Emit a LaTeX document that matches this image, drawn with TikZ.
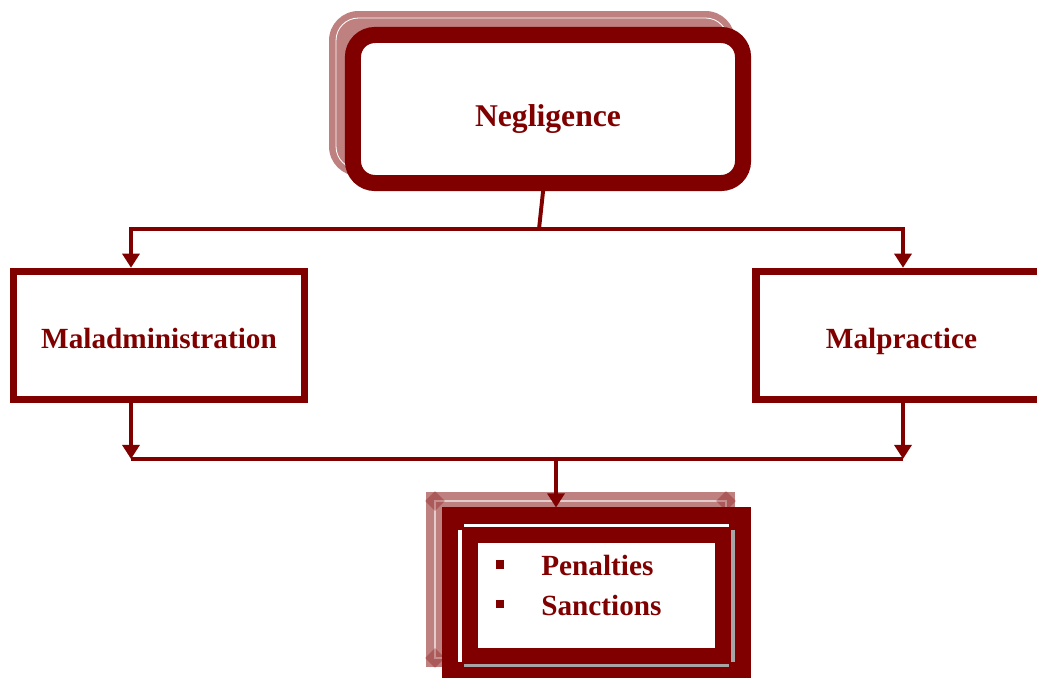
\documentclass[tikz,border=0pt]{standalone}
\definecolor{maroonred}{rgb}{0.50,0.00,0.00}
\definecolor{shadered}{rgb}{0.75,0.50,0.50}
\definecolor{bevelgray}{gray}{0.65}
\usepackage{fontspec}
\setmainfont{Liberation Serif}
\usepackage{tikz}
\usetikzlibrary{arrows.meta,positioning,calc}
\tikzset{
  conn/.style={maroonred,line width=2.8pt},
  arr/.style={conn,-{Triangle[length=10pt,width=12pt]}},
  sidebox/.style={draw=maroonred,line width=5.3pt,fill=white,minimum width=7.275cm,minimum height=3.2cm,inner sep=0pt,text height=17.8pt,text depth=0pt},
  topbox/.style={draw=maroonred,line width=11.4pt,fill=white,rounded corners=15.6pt,minimum width=9.75cm,minimum height=3.7cm,inner sep=0pt,text height=25.2pt,text depth=0pt},
  penbox/.style={draw=maroonred,line width=25.6pt,fill=white,minimum width=6.825cm,minimum height=3.5cm},
  lab/.style={text=maroonred,font=\bfseries\fontsize{20.8}{25}\selectfont},
  biglab/.style={text=maroonred,font=\bfseries\fontsize{22.5}{27}\selectfont},
  bulsq/.style={fill=maroonred,minimum size=6.2pt,inner sep=0pt},
  bevel/.style={line width=2.2pt},
  diam/.style={fill=maroonred,opacity=.3,rotate=45,minimum size=10pt,inner sep=0pt},
}

\begin{document}
\begin{tikzpicture}[x=0.025cm,y=-0.025cm]
        \useasboundingbox (0,0) rectangle (1037,677);
        \clip (0,0) rectangle (1037,677);
        % shadows
        \fill[shadered,rounded corners=21pt] (329,11) rectangle (735,176);
        \draw[white,line width=0.6pt,rounded corners=16pt] (336,18) rectangle (728,169);
        \fill[shadered] (426,492) rectangle (735,667);
        \draw[white!60!shadered,line width=1pt] (435,501) rectangle (726,658);
        \foreach \cx/\cy [count=\k] in {435/501,726/501,435/658}
          \node[diam] (dia\k) at (\cx,\cy) {};
        % boxes
        \node[topbox,biglab] (neg) at (548,109) {Negligence};
        \node[sidebox,lab] (mal) at (159,335.5) {Maladministration};
        \node[sidebox,lab] (malp) at (901.5,335.5) {Malpractice};
        \node[penbox] (pen) at (596.5,595.5) {};
        \draw[bevel,white] (464,525.5) -- (729,525.5);
        \draw[bevel,white] (460,529.5) -- (460,661.5);
        \draw[bevel,bevelgray] (733,529.5) -- (733,661.5);
        \draw[bevel,bevelgray] (464,665.5) -- (729,665.5);
        % list
        \node[bulsq] (b1) at (500,564.5) {};
        \node[lab,anchor=base west,inner sep=0pt] (pe) at (541,575) {Penalties};
        \node[bulsq] (b2) at (500,604) {};
        \node[lab,anchor=base west,inner sep=0pt] (sa) at (541,615) {Sanctions};
        % connectors
        \coordinate (jtop) at (539,229);
        \coordinate (jbot) at (556,459);
        \coordinate (mL) at ($(mal.south)+(-28,0)$);
        \coordinate (mR) at ($(malp.south)+(1.5,0)$);
        \draw[conn] ([xshift=-3.5pt]neg.south) -- (jtop);
        \draw[arr] (jtop) -| ($(mal.north)+(-28,0)$);
        \draw[arr] (jtop) -| ($(malp.north)+(1.5,0)$);
        \draw[arr] (mL) -- (mL |- jbot);
        \draw[arr] (mR) -- (mR |- jbot);
        \draw[conn] (mL |- jbot) -- (mR |- jbot);
        \draw[arr] (jbot) -- (jbot |- pen.north);
      \end{tikzpicture}
\end{document}
